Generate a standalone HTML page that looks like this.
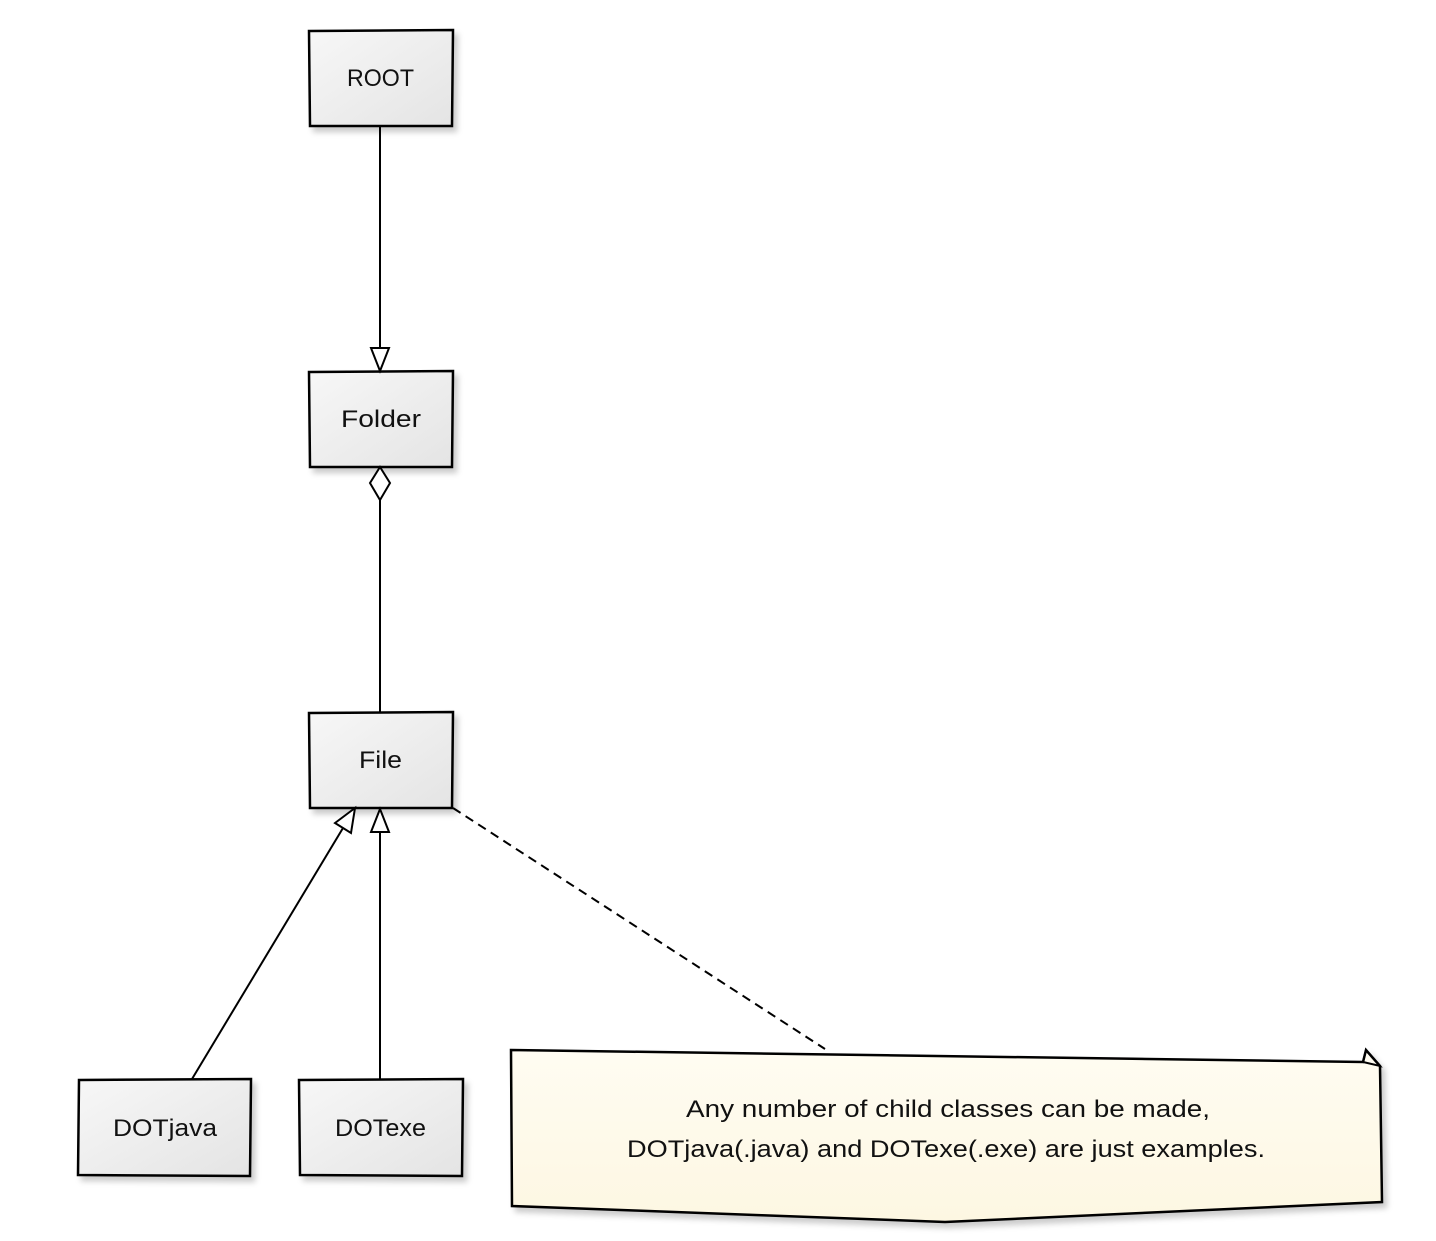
<!DOCTYPE html>
<html><head><style>body{margin:0;background:#fff}text{font-family:"Liberation Sans",sans-serif;font-size:24px;fill:#111}</style></head><body>
<svg width="1436" height="1236" xmlns="http://www.w3.org/2000/svg">
<defs>
<linearGradient id="g" x1="0" y1="0" x2="1" y2="1"><stop offset="0" stop-color="#f7f7f7"/><stop offset="1" stop-color="#e4e4e4"/></linearGradient>
<linearGradient id="n" x1="0" y1="0" x2="0" y2="1"><stop offset="0" stop-color="#fffcf2"/><stop offset="1" stop-color="#fdf7e2"/></linearGradient>
<filter id="s" x="-10%" y="-10%" width="130%" height="130%"><feDropShadow dx="4" dy="5" stdDeviation="3" flood-color="#000" flood-opacity="0.2"/></filter>
</defs>
<g stroke="#000" stroke-width="2.5" fill="url(#g)" filter="url(#s)">
<path d="M309,31 L453,30 L452,126 L310,126 Z"/>
<path d="M309,372 L453,371 L452,467 L310,467 Z"/>
<path d="M309,713 L453,712 L452,808 L310,808 Z"/>
<path d="M79,1080 L251,1079 L250,1176 L78,1175 Z"/>
<path d="M299,1080 L463,1079 L462,1176 L300,1175 Z"/>
<path d="M511,1050 L1363,1062 L1366,1050 L1380,1066 L1382,1202 L945,1222 L512,1206 Z" fill="url(#n)"/>
</g>
<path d="M1363,1062 L1366,1050 L1380,1066 Z" fill="none" stroke="#000" stroke-width="2"/>
<g stroke="#000" stroke-width="2" fill="#fff">
<line x1="380" y1="126" x2="380" y2="348"/>
<path d="M371,348 L389,348 L380,371 Z"/>
<line x1="380" y1="500" x2="380" y2="712"/>
<path d="M380,467 L390,483 L380,500 L370,483 Z"/>
<line x1="380" y1="1079" x2="380" y2="832"/>
<path d="M371,832 L389,832 L380,809 Z"/>
<line x1="192" y1="1079" x2="343" y2="828"/>
<path d="M335,823 L351,833 L355,808 Z"/>
<line x1="453" y1="808" x2="825" y2="1049" stroke-dasharray="9,6"/>
</g>
<text x="347" y="86" textLength="67" lengthAdjust="spacingAndGlyphs">ROOT</text>
<text x="341" y="427" textLength="80" lengthAdjust="spacingAndGlyphs">Folder</text>
<text x="359" y="768" textLength="43" lengthAdjust="spacingAndGlyphs">File</text>
<text x="113" y="1136" textLength="104" lengthAdjust="spacingAndGlyphs">DOTjava</text>
<text x="335" y="1136" textLength="91" lengthAdjust="spacingAndGlyphs">DOTexe</text>
<text x="686" y="1117" textLength="524" lengthAdjust="spacingAndGlyphs">Any number of child classes can be made,</text>
<text x="627" y="1157" textLength="638" lengthAdjust="spacingAndGlyphs">DOTjava(.java) and DOTexe(.exe) are just examples.</text>
</svg>
</body></html>
